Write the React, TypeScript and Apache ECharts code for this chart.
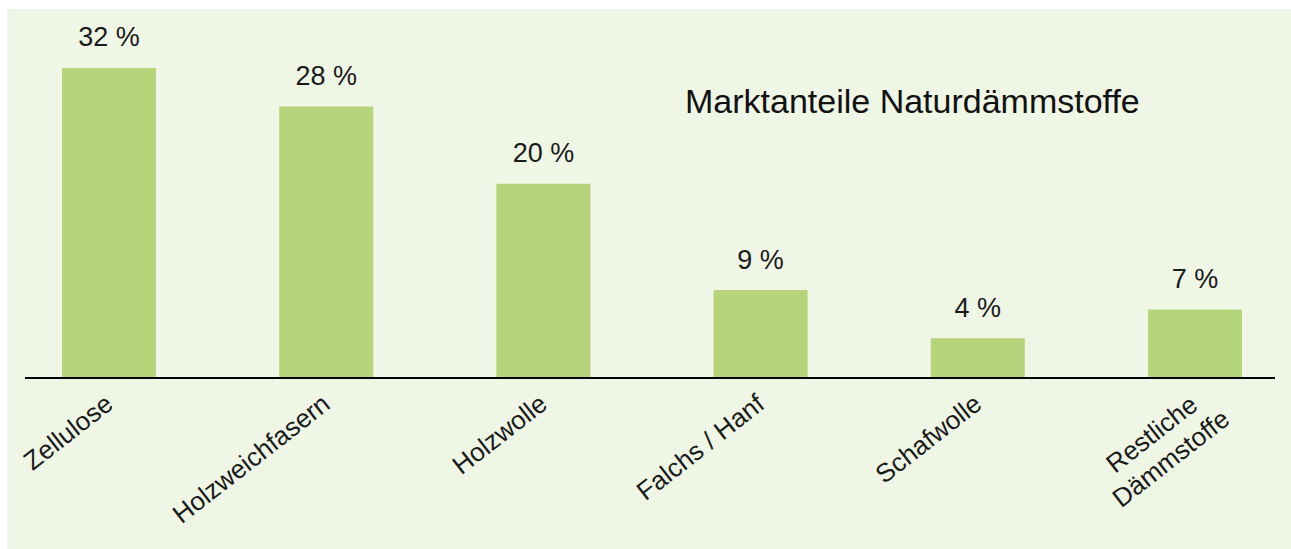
import React, { useEffect, useRef } from "react";
import * as echarts from "echarts";

const categories = ["Zellulose", "Holzweichfasern", "Holzwolle", "Falchs / Hanf", "Schafwolle", "Restliche\nDämmstoffe"];
const shares = [32, 28, 20, 9, 4, 7];
const titleText = "Marktanteile Naturdämmstoffe";

const FONT = "'Liberation Sans', Arial, Helvetica, sans-serif";

export default function App() {
  const ref = useRef<HTMLDivElement>(null);
  useEffect(() => {
    if (!ref.current) return;
    const chart = echarts.init(ref.current, null, { renderer: "svg" });
    chart.setOption({
      animation: false,
      backgroundColor: "#ffffff",
      title: {
        text: titleText,
        left: 685,
        top: 84,
        padding: 0,
        textStyle: { fontFamily: FONT, fontSize: 34, fontWeight: "normal", color: "#111111" },
      },
      graphic: [
        {
          type: "rect",
          z: -10,
          silent: true,
          shape: { x: 7, y: 9, width: 1284, height: 540 },
          style: { fill: "#eff6e6" },
        },
        {
          type: "line",
          z: 100,
          silent: true,
          shape: { x1: 25, y1: 378, x2: 1275, y2: 378 },
          style: { stroke: "#000000", lineWidth: 2 },
        },
      ],
      grid: { left: 0.4, top: 39, width: 1303.2, height: 338, outerBoundsMode: "none", containLabel: false },
      xAxis: {
        type: "category",
        data: categories.map((c) =>
          c.indexOf("\n") >= 0
            ? { value: c, textStyle: { align: "center", padding: [0, 110, 0, 0] } }
            : c
        ),
        axisLine: { show: false },
        axisTick: { show: false },
        axisLabel: {
          rotate: 38,
          margin: 23,
          interval: 0,
          fontFamily: FONT,
          fontSize: 26,
          lineHeight: 31,
          color: "#1a1a1a",
          formatter: (v: string) => (v.indexOf("\n") >= 0 ? "\n" + v : v),
        },
      },
      yAxis: {
        type: "value",
        min: 0,
        max: 35,
        show: false,
        splitLine: { show: false },
      },
      series: [
        {
          type: "bar",
          data: shares,
          barWidth: 94,
          itemStyle: { color: "#b6d57a" },
          label: {
            show: true,
            position: "top",
            distance: 17,
            formatter: "{c} %",
            fontFamily: FONT,
            fontSize: 27,
            color: "#1a1a1a",
          },
        },
      ],
    });
    return () => chart.dispose();
  }, []);
  return <div ref={ref} style={{ position: "absolute", left: 0, top: 0, width: 1291, height: 549 }} />;
}
